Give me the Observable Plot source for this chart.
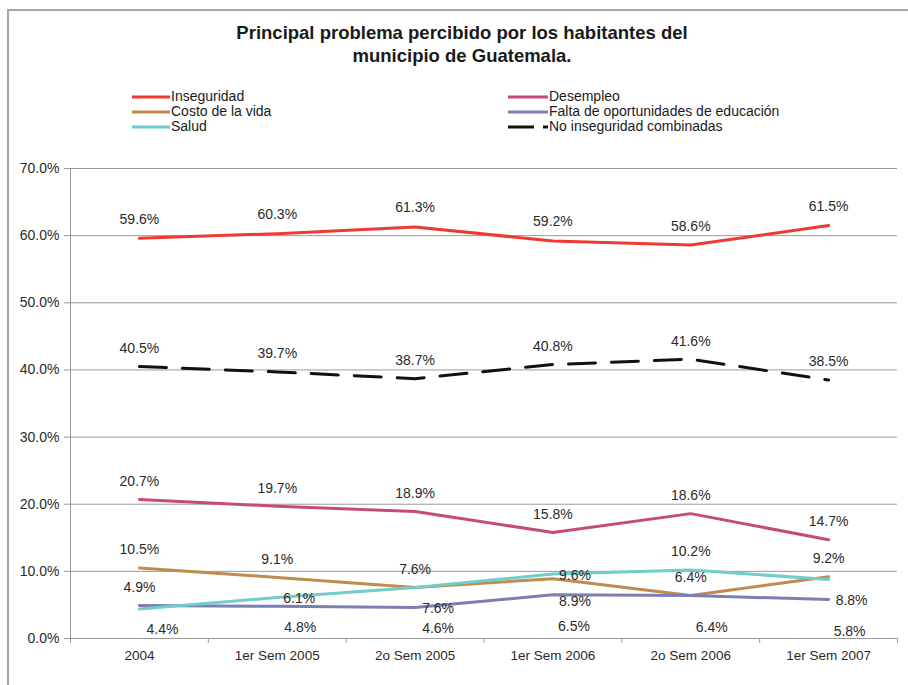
<!DOCTYPE html>
<html>
<head>
<meta charset="utf-8">
<script src="https://cdn.jsdelivr.net/npm/d3@7"></script>
<script src="https://cdn.jsdelivr.net/npm/@observablehq/plot@0.6"></script>
<style>
  body { margin: 0; background: #fff; font-family: "Liberation Sans", Arial, sans-serif; color: #222; }
  #wrap { position: relative; width: 908px; height: 685px; overflow: hidden; background: #fff; }
  #border { position: absolute; left: 7px; top: 9px; width: 1000px; height: 1000px;
            border-left: 2px solid #a6a6a6; border-top: 2px solid #a6a6a6; pointer-events: none; }
  #title { position: absolute; left: 0; top: 21px; width: 924px; text-align: center;
           font-weight: bold; font-size: 18.5px; line-height: 23px; color: #1a1a1a; }
  .leg { position: absolute; display: flex; align-items: center; font-size: 14px; height: 15px; line-height: 15px; color: #1a1a1a; white-space: nowrap; }
  .leg svg { display: block; margin-right: 1px; }
  #chart { position: absolute; left: 0; top: 150px; }
</style>
</head>
<body>
<div id="wrap">
  <div id="title">Principal problema percibido por los habitantes del<br>municipio de Guatemala.</div>
  <div id="legend"></div>
  <div id="chart"></div>
  <div id="border"></div>
</div>
<script>
// ---- data ----
const categories = ["2004", "1er Sem 2005", "2o Sem 2005", "1er Sem 2006", "2o Sem 2006", "1er Sem 2007"];
const seriesNames = ["Inseguridad", "Desempleo", "Costo de la vida", "Falta de oportunidades de educación", "Salud", "No inseguridad combinadas"];
const inseguridad = [59.6, 60.3, 61.3, 59.2, 58.6, 61.5];
const desempleo = [20.7, 19.7, 18.9, 15.8, 18.6, 14.7];
const costoVida = [10.5, 9.1, 7.6, 8.9, 6.4, 9.2];
const faltaEducacion = [4.9, 4.8, 4.6, 6.5, 6.4, 5.8];
const salud = [4.4, 6.1, 7.6, 9.6, 10.2, 8.8];
const noInseguridad = [40.5, 39.7, 38.7, 40.8, 41.6, 38.5];
const yTicks = [0, 10, 20, 30, 40, 50, 60, 70];

// ---- styles ----
const colors = ["#ee3a32", "#c64a7c", "#bf8b4f", "#7b7fb4", "#6fcdca", "#111111"];
const allValues = [inseguridad, desempleo, costoVida, faltaEducacion, salud, noInseguridad];

const data = seriesNames.flatMap((s, k) => allValues[k].map((v, i) => ({series: s, i, cat: categories[i], v})));
const bySeries = s => data.filter(d => d.series === s);
const fmt = v => v.toFixed(1) + "%";
const xDomain = [-0.5, categories.length - 0.5];
const boundaries = d3.range(categories.length + 1).map(k => k - 0.5);

// ---- legend (HTML, above the svg) ----
const legend = document.getElementById("legend");
seriesNames.forEach((name, n) => {
  const col = n % 2, row = Math.floor(n / 2);
  const div = document.createElement("div");
  div.className = "leg";
  div.style.left = (col === 0 ? 132 : 508) + "px";
  div.style.top = (89 + row * 15) + "px";
  const w = col === 0 ? 38 : 40;
  const dash = n === 5 ? ' stroke-dasharray="26,9"' : '';
  div.innerHTML = `<svg width="${w}" height="6"><line x1="0" x2="${w}" y1="3" y2="3" stroke="${colors[n]}" stroke-width="3"${dash}/></svg><span>${name}</span>`;
  legend.appendChild(div);
});

// ---- labels helper ----
const labelMark = (k, keep, dx, dy) => Plot.text(bySeries(seriesNames[k]).filter(d => keep.includes(d.i)), {
  x: "i", y: "v", text: d => fmt(d.v), dx, dy, fill: "#2a2a2a", fontSize: 14
});
const all = d3.range(categories.length);

const plot = Plot.plot({
  width: 908,
  height: 535,
  marginTop: 18,
  marginBottom: 47,
  marginLeft: 70,
  marginRight: 11,
  style: {fontFamily: "'Liberation Sans', Arial, sans-serif", fontSize: "13px", color: "#2a2a2a", background: "#fff", overflow: "visible"},
  x: {domain: xDomain, axis: null},
  y: {domain: [0, 70], axis: null},
  color: {domain: seriesNames, range: colors},
  marks: [
    Plot.gridY(yTicks, {stroke: "#999", strokeOpacity: 1, strokeWidth: 1}),
    Plot.ruleX([xDomain[0]], {stroke: "#999", strokeWidth: 1}),
    Plot.axisY(yTicks, {tickSize: 6, tickPadding: 5, tickFormat: d => d.toFixed(1) + "%", stroke: "#999", fill: "#2a2a2a", fontSize: 14, label: null}),
    Plot.axisX(boundaries, {tickSize: 5, tickFormat: () => "", stroke: "#999", label: null}),
    Plot.axisX(all, {tickSize: 0, tickPadding: 12, tickFormat: i => categories[i], fill: "#2a2a2a", fontSize: 13.5, label: null}),
    ...seriesNames.slice(0, 5).map(s => Plot.line(bySeries(s), {x: "i", y: "v", stroke: "series", strokeWidth: 3, strokeLinejoin: "round"})),
    Plot.line(bySeries(seriesNames[5]), {x: "i", y: "v", stroke: "series", strokeWidth: 3, strokeDasharray: "27,16"}),
    // labels above the points
    labelMark(0, all, 0, -19),
    labelMark(1, all, 0, -18),
    labelMark(5, all, 0, -18),
    labelMark(2, [0, 1, 2, 4, 5], 0, -18),
    labelMark(4, [4], 0, -18),
    labelMark(3, [0], 0, -18),
    // labels moved below-right
    labelMark(2, [3], 22, 23),
    labelMark(4, [0, 2, 5], 23, 21),
    labelMark(4, [1, 3], 22, 1),
    labelMark(3, [1, 2], 23, 21),
    labelMark(3, [3, 4, 5], 21, 32)
  ]
});
document.getElementById("chart").appendChild(plot);
</script>
</body>
</html>
